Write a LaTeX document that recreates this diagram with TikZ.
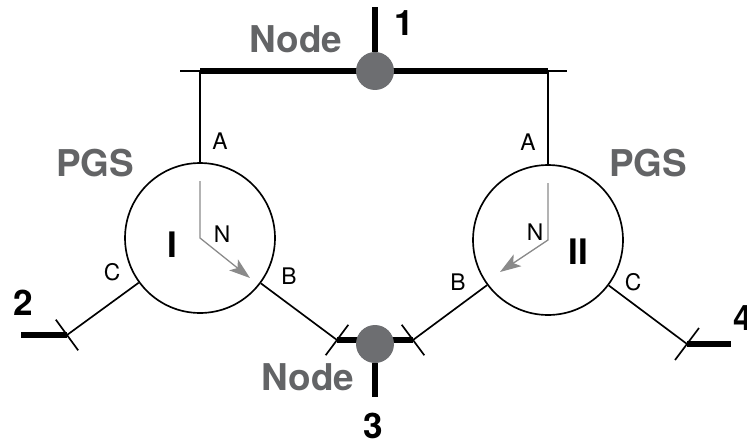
\documentclass[tikz,border=0pt]{standalone}
\usepackage{fontspec}
\setmainfont{TeX Gyre Heros}
\usetikzlibrary{positioning,calc,arrows.meta}
\definecolor{labelgray}{HTML}{636466}
\definecolor{dotgray}{HTML}{6D6E71}
\definecolor{flowgray}{HTML}{8A8A8A}
\tikzset{pgs/.style={draw,circle,minimum size=3cm,inner sep=0pt,line width=0.95pt},
	dot/.style={circle,fill=dotgray,minimum size=0.76cm,inner sep=0pt},
	bus/.style={line width=3.2pt},
	wire/.style={line width=0.95pt},
	flow/.style={draw=flowgray,line width=0.75pt,-{Stealth[length=0.42cm,width=0.28cm,inset=0.1cm]}},
	port/.style={anchor=base,font=\fontsize{13}{13}\selectfont},
	title/.style={anchor=base,text=labelgray,font=\fontsize{21}{21}\selectfont\bfseries},
	num/.style={anchor=base,font=\fontsize{20}{20}\selectfont\bfseries}}

\begin{document}
\begin{tikzpicture}[x=0.02cm,y=-0.02cm]
				\useasboundingbox (0,0) rectangle (747,443);
				\node[pgs] (P1) at (200,238) {};
				\node[pgs] (P2) at (548,240) {};

				% ends of the buses
				\coordinate (L)   at (180,71);
				\coordinate (R)   at (567,71);
				\coordinate (LA)  at (200,71);
				\coordinate (RA)  at (548,71);
				\coordinate (T1)  at (375,7);
				\coordinate (T3)  at (375,397);
				\coordinate (EC1) at (67,335);
				\coordinate (E2)  at (21,335);
				\coordinate (EB1) at (337,340);
				\coordinate (EB2) at (413,340);
				\coordinate (EC2) at (687,344);
				\coordinate (E4)  at (731,344);

				\draw[wire] (L) -- (R);
				\draw[bus] (LA) -- (RA);
				\draw[bus] (EB1) -- (EB2);
				\draw[bus] (EC1) -- (E2);
				\draw[bus] (EC2) -- (E4);

				\node[dot] (D1) at (375,71) {};
				\node[dot] (D3) at (375,344) {};

				\path[draw,wire]
					(LA) -- (P1.north)
					(RA) -- (P2.north)
					(P1) -- (EB1)
					(P1) -- (EC1)
					(P2) -- (EB2)
					(P2) -- (EC2);
				\draw[bus] (D1) -- (T1);
				\draw[bus] (D3) -- (T3);

				% short ticks across the line ends
				\draw[wire] ($(EB1)!0.38cm!90:(P1)$) -- ($(EB1)!0.38cm!-90:(P1)$);
				\draw[wire] ($(EC1)!0.38cm!90:(P1)$) -- ($(EC1)!0.38cm!-90:(P1)$);
				\draw[wire] ($(EB2)!0.38cm!90:(P2)$) -- ($(EB2)!0.38cm!-90:(P2)$);
				\draw[wire] ($(EC2)!0.4cm!90:(P2)$) -- ($(EC2)!0.4cm!-90:(P2)$);

				\draw[flow] ([yshift=1.14cm]P1.center) -- (P1.center) -- ++(50,40);
				\draw[flow] ([yshift=1.14cm]P2.center) -- (P2.center) -- ++(-48,32);

				\node[title] (n1) at (296,52) {Node};
				\node[title] (n3) at (308,390) {Node};
				\node[title] (g1) at (95,176) {PGS};
				\node[title] (g2) at (648,176) {PGS};
				\node[num] (k1) at (404,35) {1};
				\node[num] (k2) at (23,315) {2};
				\node[num] (k3) at (373,438) {3};
				\node[num,anchor=base west,inner sep=0pt] (k4) at (733,330) {4};
				\node[num] (r1) at (172,257) {I};
				\node[num] (r2) at (578,264) {II};

				\node[port] (a1) at (220,149) {A};
				\node[port] (b1) at (289,284) {B};
				\node[port] (c1) at (112,280) {C};
				\node[port] (f1) at (222,242) {N};
				\node[port] (a2) at (528,150) {A};
				\node[port] (b2) at (458,290) {B};
				\node[port] (c2) at (633,290) {C};
				\node[port] (f2) at (535,240) {N};
			\end{tikzpicture}
\end{document}
